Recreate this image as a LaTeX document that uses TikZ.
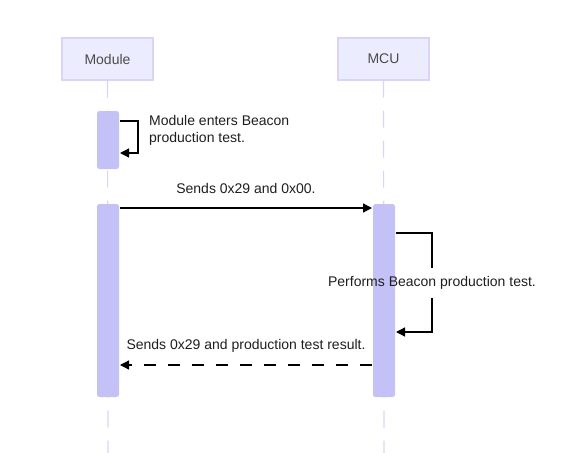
\documentclass[tikz,border=0pt]{standalone}
\usepackage{fontspec}
\setmainfont{Liberation Sans}
\usetikzlibrary{arrows.meta}
\definecolor{actfill}{HTML}{ECECFF}
\definecolor{actline}{HTML}{DDD2F7}
\definecolor{lifel}{HTML}{DCD3F7}
\definecolor{actv}{HTML}{C4C1F6}
\definecolor{txt}{HTML}{1E1E1E}
\tikzset{
  actor/.style={draw=actline, fill=actfill, line width=1.2pt, minimum width=91pt, minimum height=42pt, inner sep=0pt, text=txt!80!white, font=\fontsize{14}{16}\selectfont},
  lifeline/.style={draw=lifel, line width=1.2pt, dash pattern=on 17pt off 13pt},
  actbar/.style={fill=actv, rounded corners=2.5pt, draw=none},
  msg/.style={line width=1.3pt, -{Triangle[length=9pt,width=9pt]}},
  lbl/.style={font=\fontsize{14}{16.5}\selectfont, text=txt, inner sep=0pt}
}
\begin{document}
\begin{tikzpicture}[x=1pt,y=-1pt]
\useasboundingbox (0,0) rectangle (579,453);
\node[actor] (module) at (107.5,59) {Module};
\node[actor] (mcu) at (383.5,59) {MCU};
\coordinate (mbot) at (108,453);
\coordinate (cbot) at (384,453);
\draw[lifeline] (module.south) -- (mbot);
\draw[lifeline] (mcu.south) -- (cbot);
% activation bars
\fill[actbar] (97,111) rectangle (119,169);
\fill[actbar] (97,204) rectangle (119,397);
\fill[actbar] (373,204) rectangle (395,397);
\coordinate (a1) at (120,121);
\coordinate (a1r) at (138,121);
\coordinate (a1b) at (138,153);
\coordinate (a1e) at (120,153);
\draw[msg] (a1) -- (a1r) -- (a1b) -- (a1e);
\node[lbl, anchor=west, align=left] (t1) at (149,130.5) {Module enters Beacon\\production test.};
% message 1
\coordinate (m1s) at (120,208);
\coordinate (m1e) at (372,208);
\draw[msg] (m1s) -- (m1e);
\node[lbl] (t2) at (246,188) {Sends 0x29 and 0x00.};
% self loop MCU
\coordinate (s1) at (396,233);
\coordinate (s2) at (432,233);
\coordinate (s3) at (432,268);
\coordinate (s4) at (432,298);
\coordinate (s5) at (432,332);
\coordinate (s6) at (396,332);
\draw[line width=1.3pt] (s1) -- (s2) -- (s3);
\draw[msg] (s4) -- (s5) -- (s6);
\node[lbl] (t3) at (432,283) {Performs Beacon production test.};
% message 3
\coordinate (m3s) at (372,365);
\coordinate (m3e) at (120,365);
\draw[msg, dash pattern=on 12pt off 12pt] (m3s) -- (m3e);
\node[lbl] (t4) at (246,346) {Sends 0x29 and production test result.};
\end{tikzpicture}
\end{document}
